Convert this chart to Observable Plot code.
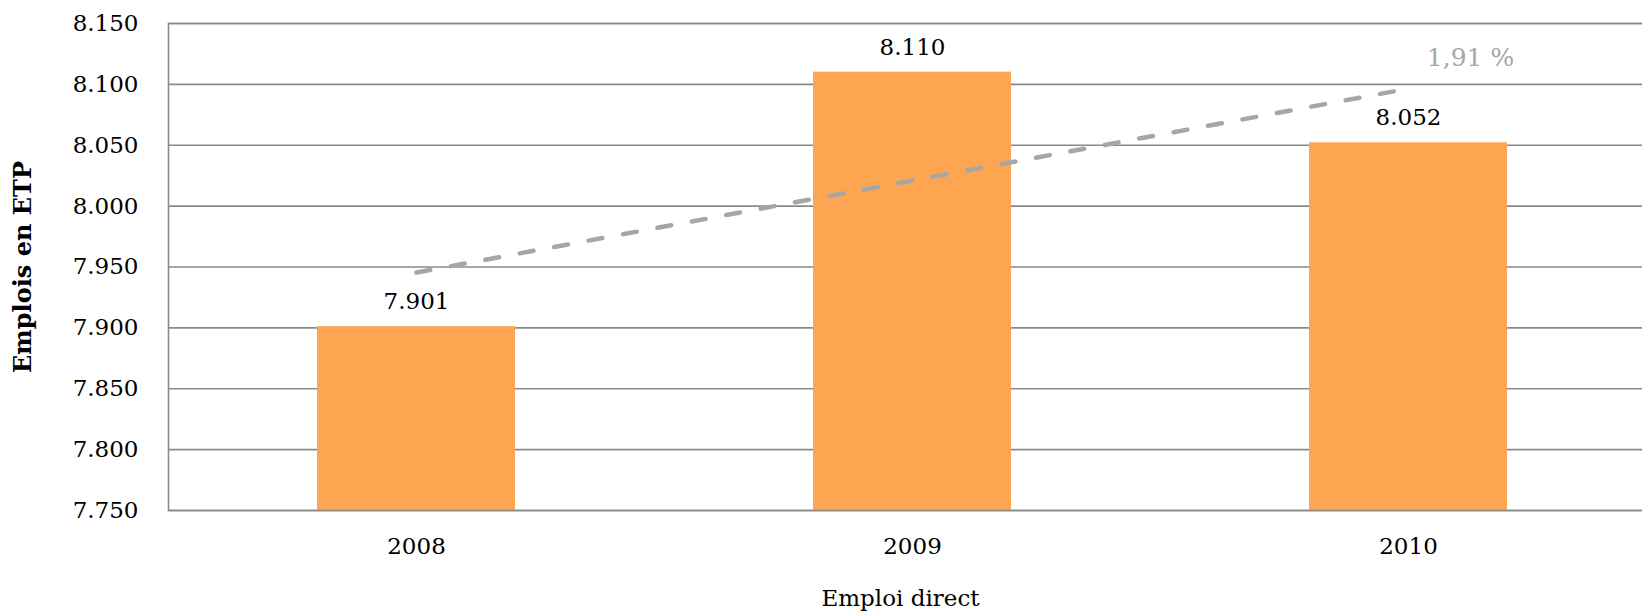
<!DOCTYPE html>
<html><head><meta charset="utf-8">
<script src="https://cdn.jsdelivr.net/npm/d3@7"></script>
<script src="https://cdn.jsdelivr.net/npm/@observablehq/plot@0.6"></script>
<style>html,body{margin:0;padding:0;background:#fff;overflow:hidden}</style>
</head><body><div id="chart"></div>
<script>
const years = ["2008", "2009", "2010"];
const emplois = [7901, 8110, 8052];
const trendYears = ["2008", "2010"];
const trendValues = [7945.5, 8096.5];
const trendLabel = "1,91 %";
const yTicks = [7750, 7800, 7850, 7900, 7950, 8000, 8050, 8100, 8150];
const yTitle = "Emplois en ETP";
const xTitle = "Emploi direct";

const fmt = v => d3.format(",")(v).replace(/,/g, ".");
const bars = years.map((year, i) => ({year, value: emplois[i]}));
const trend = trendYears.map((year, i) => ({year, value: trendValues[i]}));
const base = yTicks[0];
const font = "'DejaVu Serif', serif";
const grid = "#8a8a8a";

const chart = Plot.plot({
  width: 1642, height: 611,
  marginLeft: 168, marginRight: -14, marginTop: 23, marginBottom: 101,
  style: {fontFamily: font, fontSize: "23px", color: "#000", background: "#fff", overflow: "hidden"},
  x: {domain: years, paddingInner: 0.6, paddingOuter: 0.3, tickSize: 0, tickPadding: 27, label: null},
  y: {domain: [yTicks[0], yTicks[yTicks.length - 1]], ticks: yTicks, tickFormat: fmt, tickSize: 0, tickPadding: 30, label: null},
  marks: [
    Plot.ruleY(yTicks, {stroke: grid, strokeWidth: 1.6}),
    Plot.barY(bars, {x: "year", y1: base, y2: "value", fill: "#fda551"}),
    Plot.frame({stroke: grid, strokeWidth: 1.6}),
    Plot.line(trend, {x: "year", y: "value", stroke: "#a6a6a6", strokeWidth: 4.5, strokeDasharray: "14,21", strokeLinecap: "round"}),
    Plot.text(bars, {x: "year", y: "value", text: d => fmt(d.value), dy: -25, fill: "#000"}),
    Plot.text([trend[trend.length - 1]], {x: "year", y: "value", text: () => trendLabel, dx: 62, dy: -31, fill: "#a6a6a6", fontSize: 25}),
    Plot.text([yTitle], {frameAnchor: "left", textAnchor: "middle", lineAnchor: "middle", dx: -145, rotate: -90, fontWeight: "bold", fontSize: 24, text: d => d}),
    Plot.text([xTitle], {frameAnchor: "bottom", textAnchor: "middle", lineAnchor: "middle", dx: -12, dy: 88, text: d => d})
  ]
});
document.getElementById("chart").appendChild(chart);
</script>
</body></html>
